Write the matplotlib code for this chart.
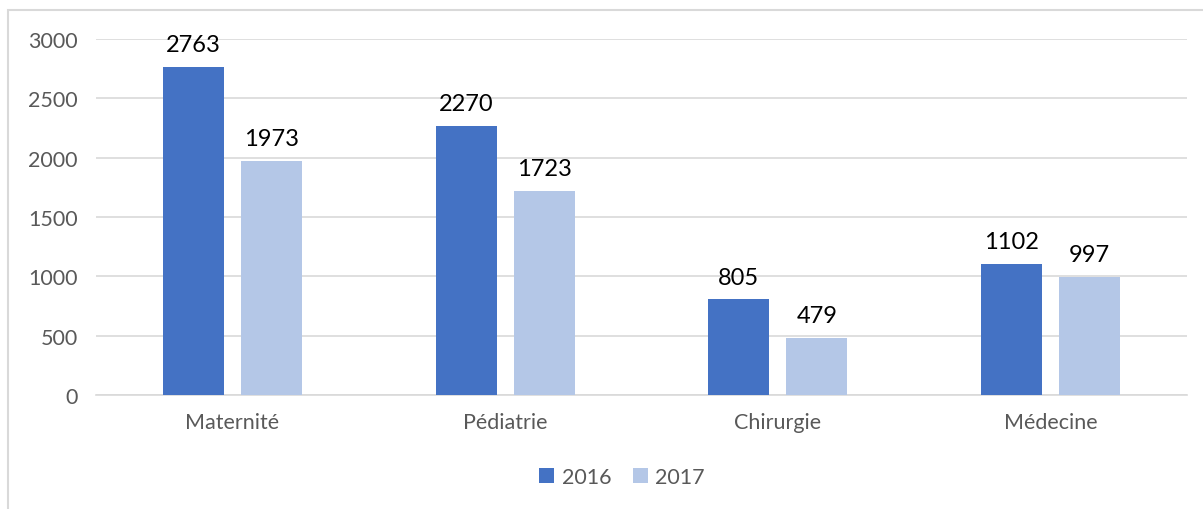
import numpy as np
import matplotlib.pyplot as plt
from matplotlib.patches import Rectangle

categories = ['Maternité', 'Pédiatrie', 'Chirurgie', 'Médecine']
years = ['2016', '2017']
values_2016 = [2763, 2270, 805, 1102]
values_2017 = [1973, 1723, 479, 997]

plt.rcParams['font.family'] = ['Lato', 'DejaVu Sans']

W, H = 1203, 510
fig = plt.figure(figsize=(W / 100, H / 100), dpi=100)

# outer chart border (clipped on right and bottom like the source)
fig.patches.append(Rectangle((8 / W, -0.1), 1.2, 1 - 11 / H + 0.1, transform=fig.transFigure,
                             fill=False, edgecolor='#d9d9d9', linewidth=1.5))

ax = fig.add_axes([96 / W, 1 - 396 / H, (1187 - 96) / W, (396 - 40) / H])

x = np.arange(len(categories))
width = 0.224
off = 0.143
b1 = ax.bar(x - off, values_2016, width, color='#4472C4', label=years[0], zorder=3)
b2 = ax.bar(x + off, values_2017, width, color='#B4C7E7', label=years[1], zorder=3)

for bars in (b1, b2):
    for rect in bars:
        h = rect.get_height()
        ax.annotate(f'{int(h)}', xy=(rect.get_x() + rect.get_width() / 2, h),
                    xytext=(0, 8.5), textcoords='offset points', ha='center', va='bottom',
                    fontsize=17, color='black')

ax.set_xlim(-0.5, len(categories) - 0.5)
ax.set_ylim(0, 3000)
ax.set_yticks(np.arange(0, 3001, 500))
ax.set_xticks(x)
ax.set_xticklabels(categories)
ax.grid(axis='y', color='#d9d9d9', linewidth=1.2, zorder=0)
for s in ['top', 'right', 'left']:
    ax.spines[s].set_visible(False)
ax.spines['bottom'].set_color('#d9d9d9')
ax.spines['bottom'].set_linewidth(1.2)
ax.tick_params(axis='both', length=0, labelsize=15.5, colors='#595959')
ax.tick_params(axis='y', pad=13)
ax.tick_params(axis='x', pad=12)

fig.legend(loc='center', bbox_to_anchor=(622 / W, 1 - 478 / H), ncol=2, frameon=False,
           fontsize=15.5, labelcolor='#595959', handlelength=0.7, handleheight=0.7,
           handletextpad=0.35, columnspacing=1.0)

fig.savefig('out.png', dpi=100)
